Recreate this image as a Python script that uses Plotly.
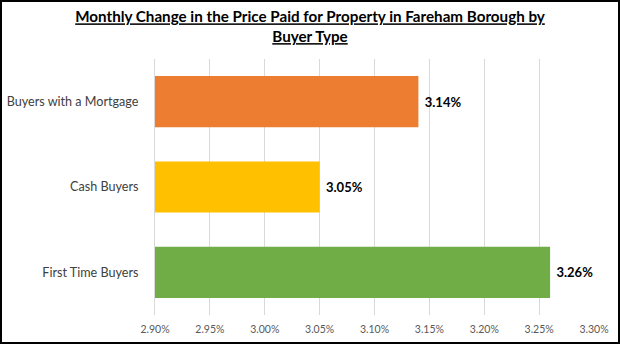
import plotly.graph_objects as go

categories = ["First Time Buyers", "Cash Buyers", "Buyers with a Mortgage"]
values = [3.26, 3.05, 3.14]
colors = ["#70AD47", "#FFC000", "#ED7D31"]
tick_vals = [2.90, 2.95, 3.00, 3.05, 3.10, 3.15, 3.20, 3.25, 3.30]
tick_text = ["2.90%", "2.95%", "3.00%", "3.05%", "3.10%", "3.15%", "3.20%", "3.25%", "3.30%"]

W, H = 620, 344
ml, mr, mt, mb = 155, 26, 59, 29
pw, ph = W - ml - mr, H - mt - mb

fig = go.Figure()
fig.add_trace(go.Bar(
    y=categories, x=values, orientation="h",
    marker=dict(color=colors, line=dict(width=0)),
    width=0.6,
    text=[f"&nbsp;<b>{v:.2f}%</b>" for v in values],
    textposition="outside", cliponaxis=False,
    textfont=dict(family="Lato, sans-serif", size=13, color="#000000"),
))

fig.update_layout(
    width=W, height=H,
    margin=dict(l=ml, r=mr, t=mt, b=mb, autoexpand=False),
    paper_bgcolor="white", plot_bgcolor="white",
    showlegend=False,
    title=dict(
        text="<b><u>Monthly Change in the Price Paid for Property in Fareham Borough by</u></b><br><b><u>Buyer Type</u></b>",
        x=0.5, xanchor="center", y=0.935, yanchor="top",
        font=dict(family="Lato, sans-serif", size=15.2, color="#000000"),
    ),
    xaxis=dict(
        range=[2.90, 3.30], tickvals=tick_vals, ticktext=tick_text,
        showgrid=True, gridcolor="#D9D9D9", gridwidth=1,
        zeroline=False, showline=False, ticks="", automargin=False,
        ticklabelstandoff=6,
        tickfont=dict(family="Lato, sans-serif", size=10.5, color="#595959"),
    ),
    yaxis=dict(
        showline=True, linecolor="#D9D9D9", linewidth=1,
        ticks="", ticklabelstandoff=13, automargin=False,
        tickfont=dict(family="Lato, sans-serif", size=12.6, color="#404040"),
    ),
    bargap=0.4,
)

# outer black frame
fig.add_shape(type="rect", xref="paper", yref="paper",
              x0=(-ml + 1) / pw, x1=(W - ml - 1) / pw,
              y0=(-mb + 1) / ph, y1=(H - mb - 1) / ph,
              line=dict(color="#000000", width=2), layer="above")

fig.write_html("out.html")
